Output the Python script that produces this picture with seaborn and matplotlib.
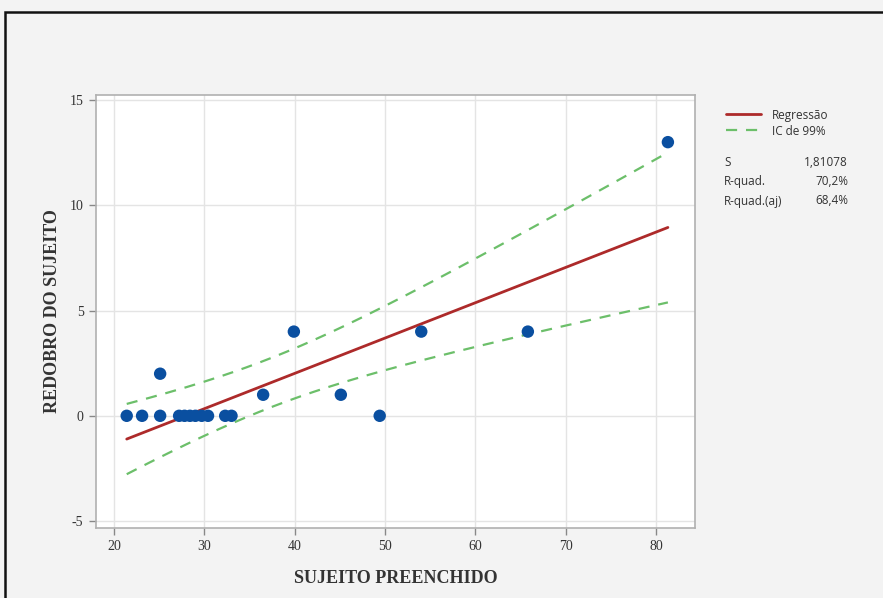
import numpy as np
import pandas as pd
import matplotlib
matplotlib.use("Agg")
import matplotlib.pyplot as plt
import seaborn as sns
from matplotlib.patches import Rectangle

# ---- data ----
sujeito_preenchido = [21.4, 23.1, 25.1, 25.1, 27.2, 27.8, 28.4, 29.0, 29.7, 30.4,
                      32.3, 33.0, 36.5, 39.9, 45.1, 49.4, 54.0, 65.8, 81.3]
redobro_sujeito = [0, 0, 0, 2, 0, 0, 0, 0, 0, 0,
                   0, 0, 1, 4, 1, 0, 4, 4, 13]
x_ticks = [20, 30, 40, 50, 60, 70, 80]
y_ticks = [-5, 0, 5, 10, 15]
legend_labels = ["Regressão", "IC de 99%"]
stat_names = ["S", "R-quad.", "R-quad.(aj)"]
stat_values = ["1,81078", "70,2%", "68,4%"]
t_crit_99 = 2.898  # t(0.995, df=17)

df = pd.DataFrame({"x": sujeito_preenchido, "y": redobro_sujeito})

# regression and 99% confidence band for the mean
x = np.asarray(sujeito_preenchido, float)
y = np.asarray(redobro_sujeito, float)
n = len(x)
b1, b0 = np.polyfit(x, y, 1)
resid = y - (b0 + b1 * x)
s = np.sqrt((resid ** 2).sum() / (n - 2))
sxx = ((x - x.mean()) ** 2).sum()
xg = np.linspace(x.min(), x.max(), 200)
yg = b0 + b1 * xg
hw = t_crit_99 * s * np.sqrt(1 / n + (xg - x.mean()) ** 2 / sxx)
fit = pd.DataFrame({"x": xg, "fit": yg, "lo": yg - hw, "hi": yg + hw})

sns.set_theme(style="whitegrid")
plt.rcParams["font.family"] = ["Liberation Serif", "DejaVu Serif"]
plt.rcParams["axes.unicode_minus"] = False

W, H = 883, 598
fig = plt.figure(figsize=(W / 100, H / 100), dpi=100)
fig.patch.set_facecolor("#f3f3f3")
fig.patches.append(Rectangle((5 / W, -0.1), 1.2, (H - 12) / H + 0.1,
                             transform=fig.transFigure, fill=False,
                             edgecolor="#111111", linewidth=1.8))

ax = fig.add_axes([96 / W, 1 - 528 / H, (695 - 96) / W, (528 - 95) / H])
ax.set_facecolor("white")

red = "#ad2a2a"
green = "#6cbf6a"
blue = "#0a4fa0"

sns.lineplot(data=fit, x="x", y="fit", ax=ax, color=red, linewidth=2.0,
             label=legend_labels[0], legend=False)
sns.lineplot(data=fit, x="x", y="hi", ax=ax, color=green, linewidth=1.6,
             linestyle=(0, (5, 4)), label=legend_labels[1], legend=False)
sns.lineplot(data=fit, x="x", y="lo", ax=ax, color=green, linewidth=1.6,
             linestyle=(0, (5, 4)), legend=False)
sns.scatterplot(data=df, x="x", y="y", ax=ax, color=blue, s=80,
                edgecolor="none", zorder=5, legend=False)

ax.set_xlim(18.0, 84.3)
ax.set_ylim(-5.33, 15.24)
ax.set_xticks(x_ticks)
ax.set_yticks(y_ticks)
ax.grid(True, color="#e4e4e4", linewidth=1.0)
for sp in ax.spines.values():
    sp.set_color("#b0b0b0")
    sp.set_linewidth(1.2)
ax.tick_params(axis="both", which="both", length=5, width=1, color="#888888",
               labelsize=10, labelcolor="#333333", bottom=True, left=True, pad=4)
ax.set_xlabel("SUJEITO PREENCHIDO", fontsize=13, fontweight="bold",
              color="#333333", labelpad=12)
ax.set_ylabel("REDOBRO DO SUJEITO", fontsize=13, fontweight="bold",
              color="#333333", labelpad=6)

handles = ax.get_lines()[:2]
leg = fig.legend(handles, legend_labels, loc="upper left",
                 bbox_to_anchor=(715 / W, 1 - 98 / H), frameon=False,
                 handlelength=3.0, handletextpad=0.9, labelspacing=0.25,
                 prop={"family": "Open Sans", "size": 8.5})
for t in leg.get_texts():
    t.set_color("#333333")

for i, (nm, val) in enumerate(zip(stat_names, stat_values)):
    yy = 1 - (162 + i * 19.5) / H
    fig.text(724 / W, yy, nm, family="Open Sans", fontsize=8.5,
             color="#333333", va="center", ha="left")
    fig.text(848 / W, yy, val, family="Open Sans", fontsize=8.5,
             color="#333333", va="center", ha="right")

fig.savefig("out.png", dpi=100, facecolor=fig.get_facecolor())
